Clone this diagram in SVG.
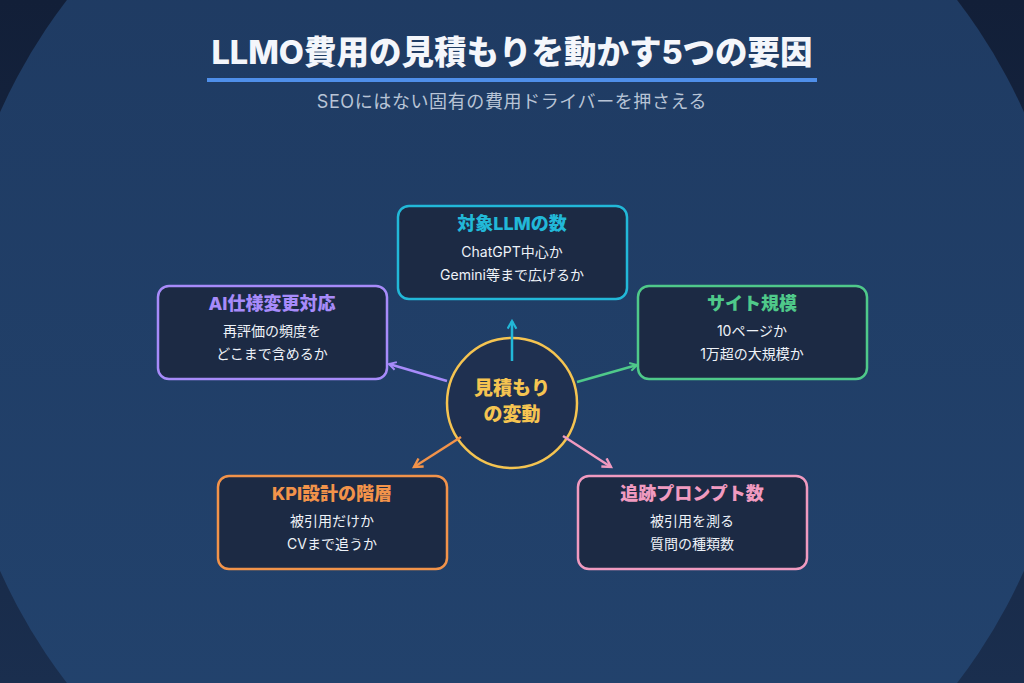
<svg xmlns="http://www.w3.org/2000/svg" width="1024" height="683" viewBox="0 0 1024 683">
  <defs>
    <linearGradient id="bgOuter" x1="0" y1="0" x2="0" y2="1">
      <stop offset="0" stop-color="#121f38"/>
      <stop offset="1" stop-color="#1a2e4e"/>
    </linearGradient>
    <linearGradient id="bgInner" x1="0" y1="0" x2="0" y2="1">
      <stop offset="0" stop-color="#1e3960"/>
      <stop offset="1" stop-color="#23446f"/>
    </linearGradient>
    <marker id="arrCyan" viewBox="0 0 10 10" refX="8" refY="5" markerWidth="11" markerHeight="11" markerUnits="userSpaceOnUse" orient="auto">
      <path d="M1,1 L8,5 L1,9" fill="none" stroke="#22b8d8" stroke-width="2"/>
    </marker>
    <marker id="arrPurple" viewBox="0 0 10 10" refX="8" refY="5" markerWidth="10" markerHeight="10" markerUnits="userSpaceOnUse" orient="auto">
      <path d="M1,1 L8,5 L1,9" fill="none" stroke="#a78bfa" stroke-width="2"/>
    </marker>
    <marker id="arrGreen" viewBox="0 0 10 10" refX="8" refY="5" markerWidth="10" markerHeight="10" markerUnits="userSpaceOnUse" orient="auto">
      <path d="M1,1 L8,5 L1,9" fill="none" stroke="#4fc98a" stroke-width="2"/>
    </marker>
    <marker id="arrOrange" viewBox="0 0 10 10" refX="8" refY="5" markerWidth="12" markerHeight="12" markerUnits="userSpaceOnUse" orient="auto">
      <path d="M1,1 L8,5 L1,9" fill="none" stroke="#f2934a" stroke-width="2"/>
    </marker>
    <marker id="arrPink" viewBox="0 0 10 10" refX="8" refY="5" markerWidth="12" markerHeight="12" markerUnits="userSpaceOnUse" orient="auto">
      <path d="M1,1 L8,5 L1,9" fill="none" stroke="#f09ac0" stroke-width="2"/>
    </marker>
  </defs>
  <style>
    text { font-family: Inter, "Noto Sans CJK JP", sans-serif; text-anchor: middle; }
    .box { fill: #1c2a44; stroke-width: 2.5; }
    .ttl { font-size: 18px; font-weight: 800; }
    .body { font-size: 14px; fill: #eef2f8; }
    .conn { stroke-width: 2.5; fill: none; }
  </style>

  <rect x="0" y="0" width="1024" height="683" fill="url(#bgOuter)"/>
  <circle cx="512" cy="341.5" r="561" fill="url(#bgInner)"/>

  <g id="header">
    <text x="512" y="64" font-size="32.5" font-weight="800" fill="#f4f6fb">LLMO費用の見積もりを動かす5つの要因</text>
    <rect x="207" y="78" width="610" height="4" fill="#4f8fea"/>
    <text x="512" y="108" font-size="18" letter-spacing="0.6" fill="#b8c4d6">SEOにはない固有の費用ドライバーを押さえる</text>
  </g>

  <g id="center">
    <circle cx="512" cy="403" r="65" fill="#1f3050" stroke="#f5c451" stroke-width="2.5"/>
    <text x="512" y="395" font-size="19" font-weight="800" fill="#f5c451">見積もり</text>
    <text x="512" y="421" font-size="19" font-weight="800" fill="#f5c451">の変動</text>
  </g>

  <g id="connectors">
    <line class="conn" x1="512" y1="361" x2="512" y2="321" stroke="#22b8d8" marker-end="url(#arrCyan)"/>
    <line class="conn" x1="447" y1="381" x2="389" y2="364" stroke="#a78bfa" marker-end="url(#arrPurple)"/>
    <line class="conn" x1="577" y1="382" x2="637" y2="365" stroke="#4fc98a" marker-end="url(#arrGreen)"/>
    <line class="conn" x1="461" y1="437" x2="414" y2="467" stroke="#f2934a" marker-end="url(#arrOrange)"/>
    <line class="conn" x1="563" y1="436" x2="611" y2="467" stroke="#f09ac0" marker-end="url(#arrPink)"/>
  </g>

  <g id="node-llm">
    <rect class="box" x="398" y="206" width="229" height="93" rx="11" stroke="#22b8d8"/>
    <text class="ttl" x="512" y="230" fill="#22b8d8">対象LLMの数</text>
    <text class="body" x="512" y="257">ChatGPT中心か</text>
    <text class="body" x="512" y="280">Gemini等まで広げるか</text>
  </g>

  <g id="node-ai">
    <rect class="box" x="158" y="286" width="229" height="93" rx="11" stroke="#a78bfa"/>
    <text class="ttl" x="272" y="310" fill="#a78bfa">AI仕様変更対応</text>
    <text class="body" x="272" y="336">再評価の頻度を</text>
    <text class="body" x="272" y="359">どこまで含めるか</text>
  </g>

  <g id="node-site">
    <rect class="box" x="638" y="286" width="229" height="93" rx="11" stroke="#4fc98a"/>
    <text class="ttl" x="752" y="310" fill="#4fc98a">サイト規模</text>
    <text class="body" x="752" y="336">10ページか</text>
    <text class="body" x="752" y="359">1万超の大規模か</text>
  </g>

  <g id="node-kpi">
    <rect class="box" x="218" y="476" width="229" height="93" rx="11" stroke="#f2934a"/>
    <text class="ttl" x="332" y="500" fill="#f2934a">KPI設計の階層</text>
    <text class="body" x="332" y="526">被引用だけか</text>
    <text class="body" x="332" y="549">CVまで追うか</text>
  </g>

  <g id="node-prompt">
    <rect class="box" x="578" y="476" width="229" height="93" rx="11" stroke="#f09ac0"/>
    <text class="ttl" x="692" y="500" fill="#f09ac0">追跡プロンプト数</text>
    <text class="body" x="692" y="526">被引用を測る</text>
    <text class="body" x="692" y="549">質問の種類数</text>
  </g>
</svg>
